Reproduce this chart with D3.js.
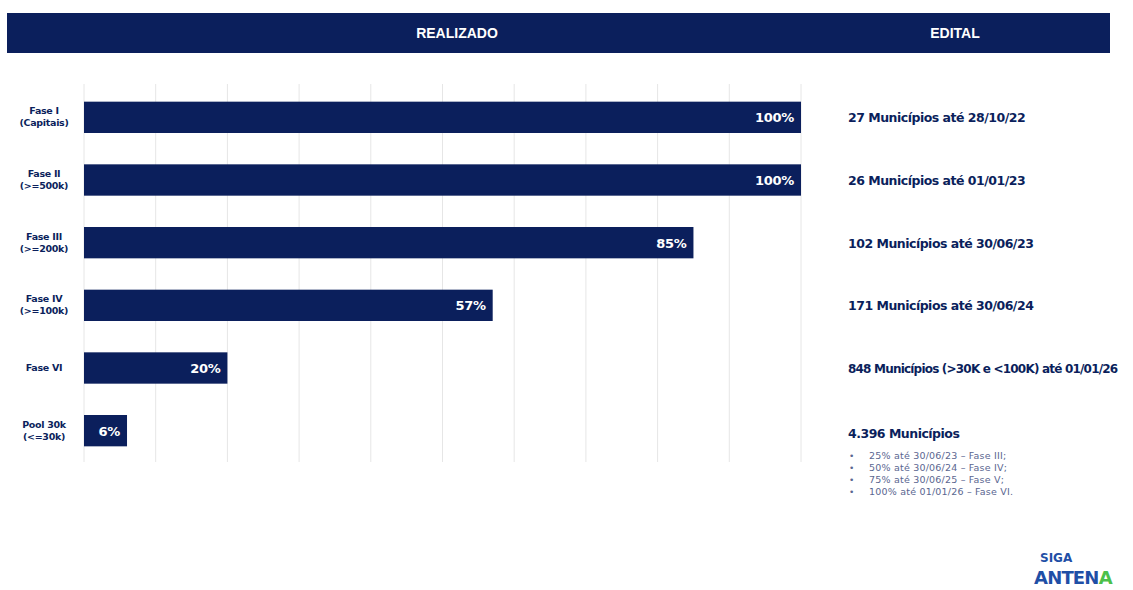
<!DOCTYPE html>
<html><head><meta charset="utf-8">
<script src="https://cdn.jsdelivr.net/npm/d3@7"></script>
<style>
body{margin:0;background:#fff;}
svg{display:block;font-family:"DejaVu Sans",Arial,sans-serif;}
</style></head>
<body><svg id="c" width="1133" height="590"></svg>
<script>
const categories = [["Fase I","(Capitais)"],["Fase II","(>=500k)"],["Fase III","(>=200k)"],["Fase IV","(>=100k)"],["Fase VI"],["Pool 30k","(<=30k)"]];
const values = [100, 100, 85, 57, 20, 6];
const valueLabels = ["100%","100%","85%","57%","20%","6%"];
const editalTexts = ["27 Municípios até 28/10/22","26 Municípios até 01/01/23","102 Municípios até 30/06/23","171 Municípios até 30/06/24","848 Municípios (>30K e <100K) até 01/01/26","4.396 Municípios"];
const poolBullets = ["25% até 30/06/23 – Fase III;","50% até 30/06/24 – Fase IV;","75% até 30/06/25 – Fase V;","100% até 01/01/26 – Fase VI."];
const gridTicks = [0,10,20,30,40,50,60,70,80,90,100];
const headers = ["REALIZADO","EDITAL"];

const navy = "#0b1f5c";
const svg = d3.select("#c");

// header band
svg.append("rect").attr("x",7).attr("y",13).attr("width",1103).attr("height",40).attr("fill",navy);
const hf = "'Liberation Sans Narrow','Arial Narrow',sans-serif";
svg.append("text").attr("x",457).attr("y",38).attr("text-anchor","middle").attr("fill","#fff")
  .attr("font-family",hf).attr("font-weight","bold").attr("font-size",14).text(headers[0]);
svg.append("text").attr("x",955).attr("y",38).attr("text-anchor","middle").attr("fill","#fff")
  .attr("font-family",hf).attr("font-weight","bold").attr("font-size",14).text(headers[1]);

const x = d3.scaleLinear().domain([0,100]).range([84,801]);
const y = d3.scaleBand().domain(d3.range(categories.length)).range([86,462]).paddingInner(0.5).paddingOuter(0.25);

// grid
svg.append("g").selectAll("line").data(gridTicks).join("line")
  .attr("x1",d=>x(d)).attr("x2",d=>x(d)).attr("y1",84).attr("y2",462)
  .attr("stroke","#e6e6e6").attr("stroke-width",1);

// bars
svg.append("g").selectAll("rect").data(values).join("rect")
  .attr("x",x(0)).attr("y",(d,i)=>y(i)).attr("width",d=>x(d)-x(0)).attr("height",y.bandwidth())
  .attr("fill",navy);

// value labels
svg.append("g").selectAll("text").data(values).join("text")
  .attr("x",d=>x(d)-7).attr("y",(d,i)=>y(i)+y.bandwidth()/2+5)
  .attr("text-anchor","end").attr("fill","#fff").attr("font-weight","bold").attr("font-size",13)
  .attr("letter-spacing",-0.3)
  .text((d,i)=>valueLabels[i]);

// category labels
const cg = svg.append("g");
categories.forEach((lines,i)=>{
  const cy = y(i)+y.bandwidth()/2;
  const t = cg.append("text").attr("text-anchor","middle").attr("fill",navy)
    .attr("font-weight","bold").attr("font-size",9.5).attr("letter-spacing",-0.3);
  const n = lines.length;
  lines.forEach((l,j)=>{
    t.append("tspan").attr("x",44).attr("y",cy + (j-(n-1)/2)*12 + 3).text(l);
  });
});

// edital texts
svg.append("g").selectAll("text").data(editalTexts).join("text")
  .attr("x",848).attr("y",(d,i)=>y(i)+y.bandwidth()/2+5 + (i===5?2:0))
  .attr("fill",navy).attr("font-weight","bold")
  .attr("font-size",(d,i)=>i===4?12:12.5)
  .attr("letter-spacing",(d,i)=>i===4?-0.8:-0.5)
  .text(d=>d);

// bullets
const bg = svg.append("g");
poolBullets.forEach((b,i)=>{
  const by = 459 + i*12;
  bg.append("text").attr("x",849).attr("y",by).attr("fill","#5a6690").attr("font-size",9).text("•");
  bg.append("text").attr("x",869).attr("y",by).attr("fill","#5a6690").attr("font-size",9.5).attr("letter-spacing",0.2).text(b);
});

// logo
svg.append("text").attr("x",1040).attr("y",562).attr("fill","#1f4fa6").attr("font-weight","bold").attr("font-size",12).text("SIGA");
const lg = svg.append("text").attr("x",1034).attr("y",584).attr("font-weight","bold").attr("font-size",18).attr("letter-spacing",-0.8);
lg.append("tspan").attr("fill","#1f4fa6").text("ANTEN");
lg.append("tspan").attr("fill","#4cc04a").text("A");
</script></body></html>
